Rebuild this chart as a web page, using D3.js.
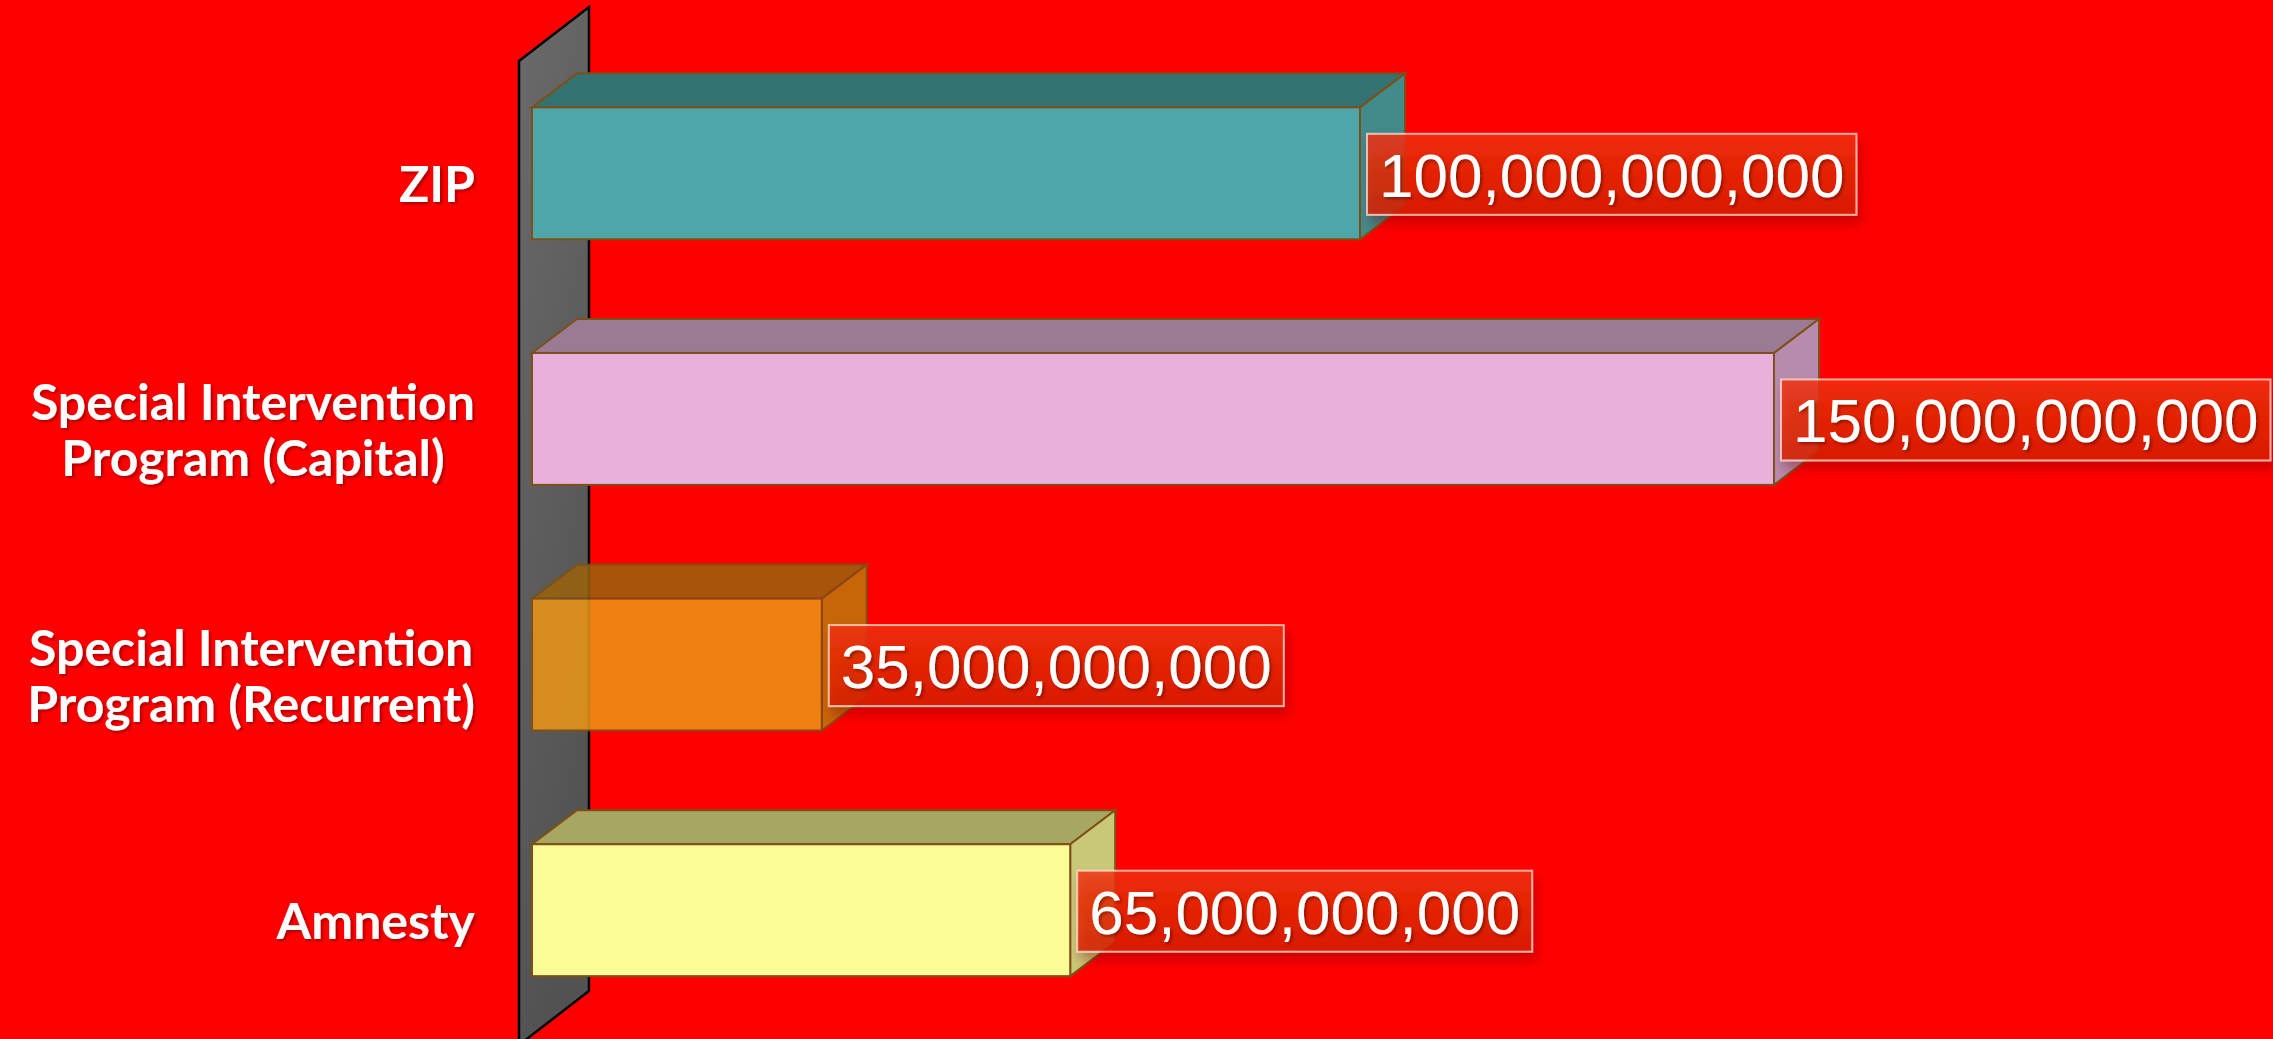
<!DOCTYPE html>
<html>
<head>
<meta charset="utf-8">
<script src="https://cdn.jsdelivr.net/npm/d3@7"></script>
<style>
  html, body { margin: 0; padding: 0; background: #ff0000; overflow: hidden; }
</style>
</head>
<body>
<div id="chart"></div>
<script>
var svgWidth = 2273;
var svgHeight = 1039;

// data
var categories = ["ZIP", "Special Intervention Program (Capital)", "Special Intervention Program (Recurrent)", "Amnesty"];
var labelLines = [["ZIP"], ["Special Intervention", "Program (Capital)"], ["Special Intervention", "Program (Recurrent)"], ["Amnesty"]];
var values = [100000000000, 150000000000, 35000000000, 65000000000];

var frontColors = ["#4fa6a8", "#e9b0dd", "#ed9515", "#fcfc96"];
var topColors = ["#357272", "#9b7a93", "#9a620c", "#a7a762"];
var sideColors = ["#438a8b", "#b78bad", "#bf760b", "#c8c878"];
var barOpacity = [1, 1, 0.86, 1];

var depthX = 45, depthY = -34;

var svg = d3.select("#chart").append("svg")
    .attr("width", svgWidth)
    .attr("height", svgHeight);

var defs = svg.append("defs");

var wallGrad = defs.append("linearGradient").attr("id", "wallGrad")
    .attr("x1", "0").attr("y1", "0").attr("x2", "0.3").attr("y2", "1");
wallGrad.append("stop").attr("offset", "0%").attr("stop-color", "#6a6a6a");
wallGrad.append("stop").attr("offset", "100%").attr("stop-color", "#525252");

var boxGrad = defs.append("linearGradient").attr("id", "boxGrad")
    .attr("x1", "0").attr("y1", "0").attr("x2", "0").attr("y2", "1");
boxGrad.append("stop").attr("offset", "0%").attr("stop-color", "#f3320b");
boxGrad.append("stop").attr("offset", "100%").attr("stop-color", "#d91e00");

var boxShadow = defs.append("filter").attr("id", "boxShadow")
    .attr("x", "-10%").attr("y", "-20%").attr("width", "130%").attr("height", "160%");
boxShadow.append("feDropShadow").attr("dx", 4).attr("dy", 8).attr("stdDeviation", 6)
    .attr("flood-color", "#7a0000").attr("flood-opacity", 0.45);

var textShadow = defs.append("filter").attr("id", "textShadow");
textShadow.append("feDropShadow").attr("dx", 2).attr("dy", 2).attr("stdDeviation", 1.5)
    .attr("flood-color", "#000").attr("flood-opacity", 0.35);

var xScale = d3.scaleLinear().domain([0, 150000000000]).range([532, 1774]);
var yScale = d3.scaleBand().domain(categories).range([50.5, 1033])
    .paddingInner(0.463).paddingOuter(0.2315);

// side wall
var wx0 = 519, wx1 = 589;
svg.append("path")
    .attr("d", "M" + wx0 + "," + 61 + "L" + wx1 + "," + 7 + "L" + wx1 + "," + 991 +
        "L" + wx0 + "," + 1045 + "Z")
    .attr("fill", "url(#wallGrad)")
    .attr("stroke", "#000")
    .attr("stroke-width", 2.5);

// bars
var bars = svg.selectAll("g.bar")
    .data(categories)
    .enter()
    .append("g")
    .attr("class", "bar")
    .attr("opacity", function(d, i) { return barOpacity[i]; });

function pts(arr) {
    return "M" + arr.map(function(p) { return p[0] + "," + p[1]; }).join("L") + "Z";
}

bars.each(function(d, i) {
    var g = d3.select(this);
    var x0 = xScale(0), x1 = xScale(values[i]);
    var y0 = yScale(d), y1 = y0 + yScale.bandwidth();
    // hidden back edges
    g.append("path")
        .attr("d", "M" + (x0 + depthX) + "," + (y0 + depthY) + "L" + (x0 + depthX) + "," + (y1 + depthY) +
            "L" + (x1 + depthX) + "," + (y1 + depthY) + "M" + x0 + "," + y1 + "L" + (x0 + depthX) + "," + (y1 + depthY))
        .attr("fill", "none")
        .attr("stroke", "#e0a535")
        .attr("stroke-width", 1.5);
    g.append("path")
        .attr("d", pts([[x0, y0], [x0 + depthX, y0 + depthY], [x1 + depthX, y0 + depthY], [x1, y0]]))
        .attr("fill", topColors[i])
        .attr("stroke", "#7d5018")
        .attr("stroke-width", 2);
    g.append("path")
        .attr("d", pts([[x1, y0], [x1 + depthX, y0 + depthY], [x1 + depthX, y1 + depthY], [x1, y1]]))
        .attr("fill", sideColors[i])
        .attr("stroke", "#7d5018")
        .attr("stroke-width", 2);
    g.append("rect")
        .attr("x", x0).attr("y", y0)
        .attr("width", x1 - x0).attr("height", y1 - y0)
        .attr("fill", frontColors[i])
        .attr("stroke", "#7d5018")
        .attr("stroke-width", 2);
});

// category labels (lines centred on each other, block right-aligned)
var labelRight = 475;
svg.selectAll("text.cat")
    .data(categories)
    .enter()
    .append("text")
    .attr("class", "cat")
    .attr("text-anchor", "middle")
    .attr("fill", "#fff")
    .attr("font-family", "Lato, 'Open Sans', sans-serif")
    .attr("font-weight", "bold")
    .attr("font-size", "50px")
    .attr("filter", "url(#textShadow)")
    .each(function(d, i) {
        var lines = labelLines[i];
        var cy = yScale(d) + yScale.bandwidth() / 2 + 11;
        var lh = 56;
        var t = d3.select(this);
        var spans = lines.map(function(line, j) {
            return t.append("tspan")
                .attr("y", cy + (j - (lines.length - 1) / 2) * lh)
                .attr("dy", "0.36em")
                .text(line);
        });
        var maxW = d3.max(spans, function(s) { return s.node().getComputedTextLength(); });
        spans.forEach(function(s) { s.attr("x", labelRight - maxW / 2); });
    });

// value labels
var fmt = d3.format(",");
var labels = svg.selectAll("g.val")
    .data(categories)
    .enter()
    .append("g")
    .attr("class", "val");

labels.each(function(d, i) {
    var g = d3.select(this);
    var bx = xScale(values[i]) + 7;
    var cy = yScale(d) + yScale.bandwidth() / 2 + 1;
    var rect = g.append("rect")
        .attr("y", cy - 40.5)
        .attr("height", 81)
        .attr("x", bx)
        .attr("fill", "url(#boxGrad)")
        .attr("fill-opacity", 0.82)
        .attr("stroke", "rgba(255,225,215,0.75)")
        .attr("stroke-width", 2)
        .attr("filter", "url(#boxShadow)");
    var txt = g.append("text")
        .attr("x", bx + 12)
        .attr("y", cy)
        .attr("dy", "0.36em")
        .attr("fill", "#fff")
        .attr("font-family", "'Liberation Sans', Arial, sans-serif")
        .attr("font-size", "62px")
        .attr("filter", "url(#textShadow)")
        .text(fmt(values[i]));
    var w = txt.node().getComputedTextLength();
    rect.attr("width", w + 24);
});
</script>
</body>
</html>
